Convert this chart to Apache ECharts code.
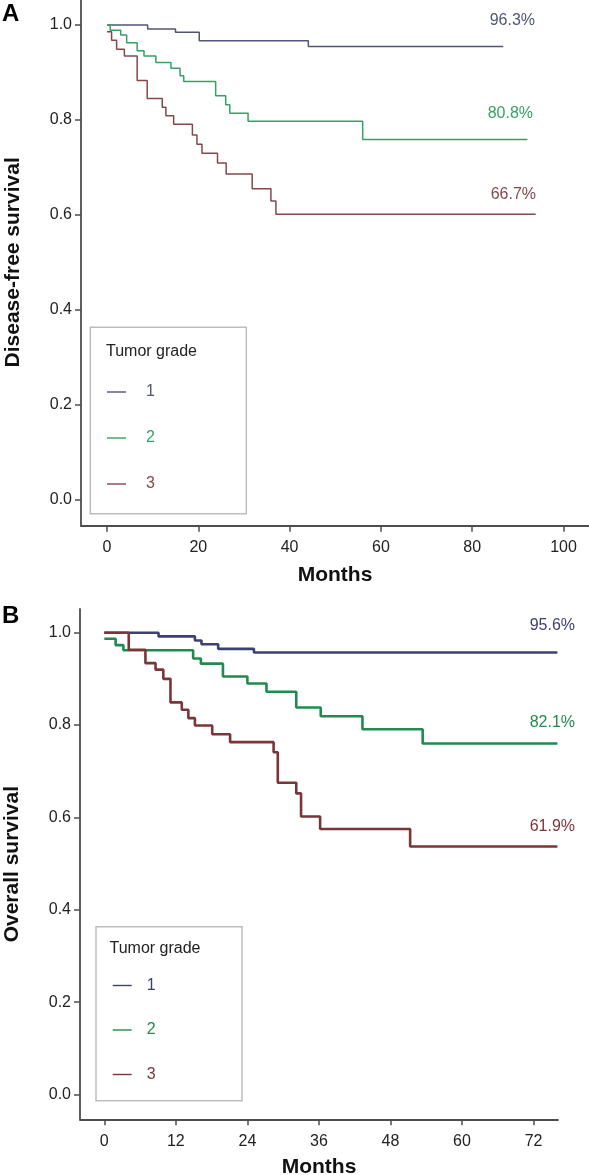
<!DOCTYPE html>
<html><head><meta charset="utf-8">
<script src="https://cdn.jsdelivr.net/npm/echarts@6/dist/echarts.min.js"></script>
<style>html,body{margin:0;padding:0;background:#fff}#c{width:589px;height:1175px}</style>
</head><body><div id="c"></div>
<script>
// ---------- DATA ----------
const gradeNames = ['1', '2', '3'];
const legendTitle = 'Tumor grade';
const xTicksDFS = [0, 20, 40, 60, 80, 100];
const xTicksOS = [0, 12, 24, 36, 48, 60, 72];
const yTicks = [0, 0.2, 0.4, 0.6, 0.8, 1.0];

// Panel A: disease-free survival, [months, survival]
const dfsGrade1 = [[0,1.0],[8.9,0.992],[15.0,0.985],[20.2,0.967],[44.1,0.955],[86.8,0.955]];
const dfsGrade2 = [[0,1.0],[0.7,0.989],[3.0,0.979],[4.3,0.963],[6.6,0.946],[8.1,0.935],[10.7,0.921],
  [14.0,0.909],[16.0,0.893],[16.8,0.881],[23.8,0.851],[26.0,0.832],[26.9,0.814],[30.9,0.797],
  [56.0,0.759],[92.1,0.759]];
const dfsGrade3 = [[0,0.986],[1.0,0.968],[2.1,0.949],[3.8,0.935],[6.6,0.883],[8.8,0.845],[12.1,0.827],
  [12.9,0.809],[14.6,0.791],[18.7,0.768],[19.7,0.749],[20.8,0.730],[24.2,0.709],[26.1,0.686],
  [31.8,0.655],[35.9,0.629],[37.0,0.601],[93.9,0.601]];
const dfsLabels = ['96.3%', '80.8%', '66.7%'];

// Panel B: overall survival, [months, survival]
const osGrade1 = [[0,1.0],[9.1,0.992],[15.2,0.983],[16.3,0.975],[19.1,0.965],[25.1,0.957],[76.0,0.957]];
const osGrade2 = [[0,0.987],[1.9,0.973],[3.2,0.962],[14.9,0.944],[16.2,0.933],[19.9,0.905],[24.0,0.890],
  [27.2,0.872],[32.2,0.838],[36.3,0.819],[43.3,0.791],[53.4,0.760],[76.0,0.760]];
const osGrade3 = [[0,1.0],[4.1,0.963],[6.9,0.934],[8.6,0.920],[9.9,0.900],[11.1,0.849],[13.0,0.833],
  [14.1,0.815],[15.2,0.799],[18.1,0.780],[21.1,0.763],[28.4,0.741],[29.1,0.675],[32.2,0.652],
  [33.0,0.602],[36.2,0.575],[51.3,0.537],[76.0,0.537]];
const osLabels = ['95.6%', '82.1%', '61.9%'];

// ---------- STYLE / LAYOUT ----------
const FONT = '"Liberation Sans", Arial, Helvetica, sans-serif';
const colA = ['#50557a', '#36a066', '#86474b'];
const colB = ['#3c4170', '#1f8b4c', '#7a3539'];
const axisCol = '#4d4d4d';

function xAxisCfg(gridIndex, min, max, ticks, gap) {
  return {
    type: 'value', gridIndex, min, max,
    name: 'Months', nameLocation: 'middle', nameGap: gap,
    nameTextStyle: { fontFamily: FONT, fontWeight: 'bold', fontSize: 21, color: '#111' },
    axisLine: { show: true, onZero: false, lineStyle: { color: axisCol, width: 1.8 } },
    axisTick: { show: true, length: 6, customValues: ticks, lineStyle: { color: axisCol, width: 1.5 } },
    axisLabel: { customValues: ticks, margin: 14, fontFamily: FONT, fontSize: 16, color: '#222' },
    splitLine: { show: false }
  };
}
function yAxisCfg(gridIndex, min, max, name) {
  return {
    type: 'value', gridIndex, min, max,
    name, nameLocation: 'middle', nameGap: 57,
    nameTextStyle: { fontFamily: FONT, fontWeight: 'bold', fontSize: 21, color: '#111' },
    axisLine: { show: true, onZero: false, lineStyle: { color: axisCol, width: 1.8 } },
    axisTick: { show: true, length: 6, customValues: yTicks, lineStyle: { color: axisCol, width: 1.5 } },
    axisLabel: { customValues: yTicks, margin: 9, fontFamily: FONT, fontSize: 16, color: '#222',
      formatter: v => v.toFixed(1) },
    splitLine: { show: false }
  };
}
function km(name, data, xi, color, width) {
  return {
    name, type: 'line', step: 'end', data, xAxisIndex: xi, yAxisIndex: xi,
    symbol: 'none', showSymbol: false, silent: true, animation: false,
    lineStyle: { color, width }, itemStyle: { color }, z: 3
  };
}
function legendCfg(left, top, gap, colors, pad) {
  return {
    orient: 'vertical', left, top, padding: 0, itemGap: gap,
    icon: 'rect', itemWidth: 19, itemHeight: 1.4,
    data: gradeNames.map((n, i) => ({ name: n, itemStyle: { color: colors[i] },
      textStyle: { color: colors[i], fontFamily: FONT, fontSize: 16, lineHeight: 16, padding: [0, 0, 0, pad] } }))
  };
}
function pctText(text, right, cy, color) {
  return { type: 'text', right: 589 - right, top: cy - 9,
    style: { text, fill: color, font: '16px ' + FONT } };
}

const chart = echarts.init(document.getElementById('c'), null, { renderer: 'canvas' });
chart.setOption({
  animation: false,
  backgroundColor: '#fff',
  grid: [
    { left: 81, top: -1, width: 508, height: 526.7, containLabel: false, outerBoundsMode: 'none' },
    { left: 80, top: 609, width: 478, height: 510.3, containLabel: false, outerBoundsMode: 'none' }
  ],
  xAxis: [ xAxisCfg(0, -5.7, 105.58, xTicksDFS, 39), xAxisCfg(1, -4.075, 76.1, xTicksOS, 37) ],
  yAxis: [ yAxisCfg(0, -0.0555, 1.055, 'Disease-free survival'), yAxisCfg(1, -0.0537, 1.0513, 'Overall survival') ],
  legend: [ legendCfg(107, 384, 30, colA, 15), legendCfg(112.7, 977.5, 28.5, colB, 10) ],
  series: [
    km(gradeNames[0], dfsGrade1, 0, colA[0], 1.5),
    km(gradeNames[1], dfsGrade2, 0, colA[1], 1.5),
    km(gradeNames[2], dfsGrade3, 0, colA[2], 1.5),
    km(gradeNames[0], osGrade1, 1, colB[0], 2.6),
    km(gradeNames[1], osGrade2, 1, colB[1], 2.6),
    km(gradeNames[2], osGrade3, 1, colB[2], 2.6)
  ],
  graphic: [
    { type: 'text', left: 2, top: 2, style: { text: 'A', fill: '#000', font: 'bold 24px ' + FONT } },
    { type: 'text', left: 2, top: 604, style: { text: 'B', fill: '#000', font: 'bold 24px ' + FONT } },
    { type: 'rect', shape: { x: 90.3, y: 327.3, width: 156, height: 186.4 }, z: 1,
      style: { fill: 'none', stroke: '#bdbdbd', lineWidth: 1.5 } },
    { type: 'text', left: 106, top: 344, style: { text: legendTitle, fill: '#222', font: '16px ' + FONT } },
    { type: 'rect', shape: { x: 96, y: 926.7, width: 146, height: 174 }, z: 1,
      style: { fill: 'none', stroke: '#bdbdbd', lineWidth: 1.5 } },
    { type: 'text', left: 109.5, top: 941, style: { text: legendTitle, fill: '#222', font: '16px ' + FONT } },
    pctText(dfsLabels[0], 535, 21.7, colA[0]),
    pctText(dfsLabels[1], 533, 114.3, colA[1]),
    pctText(dfsLabels[2], 536, 196, colA[2]),
    pctText(osLabels[0], 575, 626.7, colB[0]),
    pctText(osLabels[1], 575, 724, colB[1]),
    pctText(osLabels[2], 575, 827.5, colB[2])
  ]
});
</script>
</body></html>
